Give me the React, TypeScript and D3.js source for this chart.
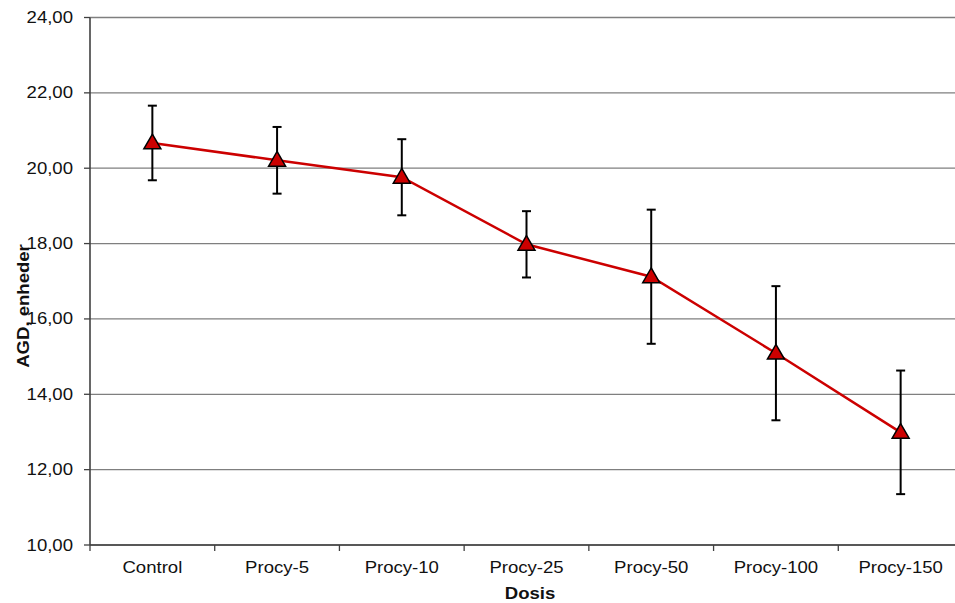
import React from "react";
import * as d3 from "d3";

const categories = ["Control", "Procy-5", "Procy-10", "Procy-25", "Procy-50", "Procy-100", "Procy-150"];
const means = [20.67, 20.21, 19.76, 17.98, 17.12, 15.09, 12.99];
const errors = [0.99, 0.885, 1.01, 0.88, 1.78, 1.78, 1.64];
const yTicks = [10, 12, 14, 16, 18, 20, 22, 24];

const W = 955;
const H = 603;
const left = 90;
const right = 963;
const top = 17.5;
const bottom = 545;
const FONT = "'Liberation Sans', Arial, sans-serif";
const SX = 1.16;

export default function App() {
  const x = d3.scaleBand<string>().domain(categories).range([left, right]).padding(0);
  const y = d3.scaleLinear().domain([10, 24]).range([bottom, top]);
  const cx = (c: string) => (x(c) as number) + x.bandwidth() / 2;
  const fmt = (v: number) => v.toFixed(2).replace(".", ",");
  const line = d3
    .line<number>()
    .x((_, i) => cx(categories[i]))
    .y((d) => y(d));
  const tri = d3.symbol().type(d3.symbolTriangle).size(125)();
  const boundaries = categories.map((c) => x(c) as number).concat([right]);

  return (
    <svg width={W} height={H} style={{ position: "absolute", left: 0, top: 0, background: "#fff" }}>
      {yTicks.map((t) => (
        <line key={"g" + t} x1={left} x2={W} y1={y(t)} y2={y(t)} stroke="#7f7f7f" strokeWidth={1.3} />
      ))}
      <line x1={left} x2={left} y1={top} y2={bottom} stroke="#404040" strokeWidth={1.6} />
      {yTicks.map((t) => (
        <g key={"yt" + t}>
          <line x1={left - 6} x2={left} y1={y(t)} y2={y(t)} stroke="#404040" strokeWidth={1.3} />
          <text
            transform={`translate(73,${y(t) + 5.5}) scale(${SX},1)`}
            textAnchor="end"
            fontFamily={FONT}
            fontSize={16}
            fill="#111"
          >
            {fmt(t)}
          </text>
        </g>
      ))}
      <line x1={left} x2={W} y1={bottom} y2={bottom} stroke="#404040" strokeWidth={1.6} />
      {boundaries.map((b, i) => (
        <line key={"xt" + i} x1={b} x2={b} y1={bottom} y2={bottom + 6} stroke="#404040" strokeWidth={1.3} />
      ))}
      {categories.map((c) => (
        <text
          key={"xl" + c}
          transform={`translate(${cx(c)},573) scale(${SX},1)`}
          textAnchor="middle"
          fontFamily={FONT}
          fontSize={16}
          fill="#111"
        >
          {c}
        </text>
      ))}
      <text
        transform={`translate(530,599) scale(${SX},1)`}
        textAnchor="middle"
        fontFamily={FONT}
        fontSize={16}
        fontWeight="bold"
        fill="#111"
      >
        Dosis
      </text>
      <text
        transform={`translate(29,306) rotate(-90) scale(${SX},1)`}
        textAnchor="middle"
        fontFamily={FONT}
        fontSize={16}
        fontWeight="bold"
        fill="#111"
      >
        AGD, enheder
      </text>
      <path d={line(means) || ""} fill="none" stroke="#cc0000" strokeWidth={2.5} />
      {means.map((m, i) => {
        const px = cx(categories[i]);
        const y1 = y(m + errors[i]);
        const y2 = y(m - errors[i]);
        return (
          <g key={"e" + i} stroke="#000" strokeWidth={2}>
            <line x1={px} x2={px} y1={y1} y2={y2} />
            <line x1={px - 4.5} x2={px + 4.5} y1={y1} y2={y1} />
            <line x1={px - 4.5} x2={px + 4.5} y1={y2} y2={y2} />
          </g>
        );
      })}
      {means.map((m, i) => (
        <path
          key={"m" + i}
          d={tri || ""}
          transform={`translate(${cx(categories[i])},${y(m) + 1})`}
          fill="#cc0000"
          stroke="#000"
          strokeWidth={1.5}
        />
      ))}
    </svg>
  );
}
